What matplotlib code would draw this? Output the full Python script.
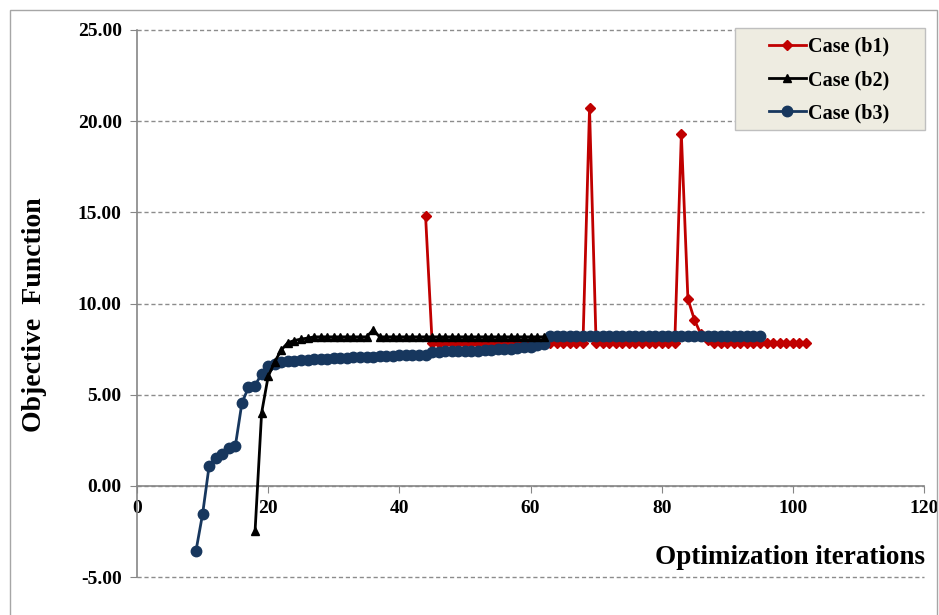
import numpy as np
import matplotlib
matplotlib.use("Agg")
import matplotlib.pyplot as plt
from matplotlib.patches import Rectangle

plt.rcParams['font.family'] = ['Liberation Serif', 'DejaVu Serif']
plt.rcParams['font.weight'] = 'bold'

# ---------------- data ----------------
b1_start = 44
b1_values = [14.8,
             7.85, 7.85, 7.85, 7.85, 7.85, 7.85, 7.85, 7.85, 7.86, 7.86, 7.86, 7.86,
             7.87, 7.87, 7.87, 7.87, 7.88, 7.88, 7.82, 7.82, 7.82, 7.82, 7.82, 7.82,
             20.7,
             7.85, 7.85, 7.85, 7.85, 7.85, 7.85, 7.85, 7.85, 7.85, 7.85, 7.85, 7.85, 7.85,
             19.3, 10.25, 9.1, 8.3, 8.0,
             7.85, 7.85, 7.85, 7.85, 7.85, 7.85, 7.85, 7.85, 7.85, 7.85, 7.85, 7.85,
             7.85, 7.85, 7.85]

b2_start = 18
b2_values = [-2.5, 4.0, 6.0, 6.8, 7.45, 7.85, 7.97, 8.05, 8.1,
             8.17, 8.17, 8.17, 8.17, 8.17, 8.17, 8.17, 8.17, 8.17,
             8.55,
             8.17, 8.17, 8.17, 8.17, 8.17, 8.17, 8.17, 8.17, 8.17, 8.17, 8.17, 8.17, 8.17,
             8.17, 8.17, 8.17, 8.17, 8.17, 8.17, 8.17, 8.17, 8.17, 8.17, 8.17, 8.17, 8.17]

b3_start = 9
b3_values = [-3.55, -1.55, 1.1, 1.5, 1.75, 2.05, 2.2, 4.55, 5.4, 5.5, 6.15, 6.55, 6.7,
             6.8, 6.84, 6.87, 6.89, 6.91, 6.93, 6.95, 6.97, 6.99, 7.01, 7.03, 7.05,
             7.06, 7.08, 7.09, 7.11, 7.12, 7.14, 7.15, 7.16, 7.17, 7.18, 7.2,
             7.35, 7.36, 7.37, 7.38, 7.39, 7.40, 7.41, 7.42, 7.44, 7.46, 7.48, 7.50,
             7.53, 7.56, 7.6, 7.64, 7.7, 7.78,
             8.2, 8.22, 8.23, 8.24, 8.24, 8.24, 8.24, 8.24, 8.24, 8.24, 8.24, 8.24,
             8.24, 8.24, 8.24, 8.24, 8.24, 8.24, 8.24, 8.24, 8.24, 8.24, 8.24, 8.24,
             8.24, 8.24, 8.24, 8.24, 8.24, 8.24, 8.24, 8.24, 8.24]

labels = ['Case (b1)', 'Case (b2)', 'Case (b3)']
x_ticks = [0, 20, 40, 60, 80, 100, 120]
y_ticks = [-5, 0, 5, 10, 15, 20, 25]

x_b1 = b1_start + np.arange(len(b1_values))
x_b2 = b2_start + np.arange(len(b2_values))
x_b3 = b3_start + np.arange(len(b3_values))

# ---------------- figure ----------------
W, H = 939, 615
fig = plt.figure(figsize=(W / 100, H / 100), dpi=100)
fig.patches.append(Rectangle((10 / W, -0.05), (937 - 10) / W, 1.05 - 10 / H,
                             transform=fig.transFigure, fill=False,
                             edgecolor='#A6A6A6', linewidth=1.0))

ax_l, ax_r, ax_t, ax_b = 137, 924, 30, 577
ax = fig.add_axes([ax_l / W, 1 - ax_b / H, (ax_r - ax_l) / W, (ax_b - ax_t) / H])

red = '#C00000'
blue = '#17375E'
l1, = ax.plot(x_b1, b1_values, color=red, lw=2.0, marker='D', ms=5.5,
              markeredgecolor=red, markerfacecolor=red, zorder=3, clip_on=False)
l3, = ax.plot(x_b3, b3_values, color=blue, lw=2.0, marker='o', ms=7.5,
              markeredgecolor=blue, markerfacecolor=blue, zorder=4, clip_on=False)
l2, = ax.plot(x_b2, b2_values, color='black', lw=2.0, marker='^', ms=5.5,
              markeredgecolor='black', markerfacecolor='black', zorder=5, clip_on=False)

ax.set_xlim(0, 120)
ax.set_ylim(-5, 25)
ax.set_xticks(x_ticks)
ax.set_yticks(y_ticks)
ax.set_xticklabels([str(v) for v in x_ticks])
ax.set_yticklabels(['%.2f' % v for v in y_ticks])

for s in ['top', 'right']:
    ax.spines[s].set_visible(False)
ax.spines['bottom'].set_position(('data', 0))
ax.spines['bottom'].set_color('#868686')
ax.spines['left'].set_color('#868686')
ax.spines['bottom'].set_linewidth(1.2)
ax.spines['left'].set_linewidth(1.2)

ax.tick_params(axis='x', direction='out', length=5, color='#868686', pad=5,
               labelsize=14)
ax.tick_params(axis='y', direction='out', length=5, color='#868686', pad=6,
               labelsize=14)
for t in ax.get_xticklabels() + ax.get_yticklabels():
    t.set_fontweight('bold')

ax.yaxis.grid(True, color='#8C8C8C', linestyle=(0, (3, 2)), linewidth=1.0)
for gl in ax.yaxis.get_gridlines():
    gl.set_clip_on(False)
ax.set_axisbelow(True)

fig.text(35 / W, 1 - 315 / H, 'Objective  Function', rotation=90, ha='center',
         va='center', fontsize=20, fontweight='bold')
fig.text(925 / W, 1 - 557 / H, 'Optimization iterations', ha='right',
         va='center', fontsize=19.5, fontweight='bold')

# legend box drawn separately for exact padding
lg_l, lg_r, lg_t, lg_b = 735, 925, 28, 130
fig.patches.append(Rectangle((lg_l / W, 1 - lg_b / H), (lg_r - lg_l) / W,
                             (lg_b - lg_t) / H, transform=fig.transFigure,
                             facecolor='#EEECE1', edgecolor='#BFBFBF',
                             linewidth=1.0, zorder=6))
leg = fig.legend([l1, l2, l3], labels, loc='center',
                 bbox_to_anchor=((lg_l + lg_r) / 2 / W - 0.001, 1 - (lg_t + lg_b + 2) / 2 / H),
                 frameon=False,
                 prop={'family': 'Liberation Serif', 'weight': 'bold', 'size': 14.5},
                 handlelength=1.85, handletextpad=0.12, borderpad=0.0,
                 labelspacing=0.66, borderaxespad=0.0)
leg.set_zorder(7)

fig.savefig('out.png', dpi=100)
